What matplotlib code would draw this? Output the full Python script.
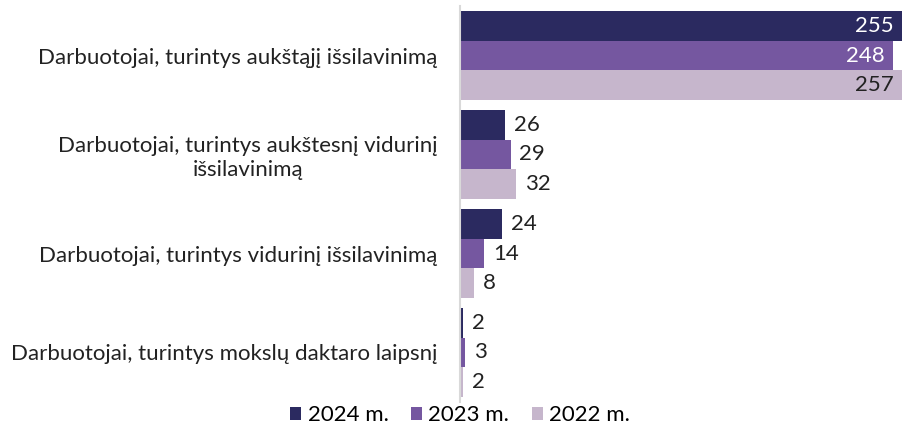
import numpy as np
import matplotlib.pyplot as plt

plt.rcParams['font.family'] = ['Lato', 'DejaVu Sans']

categories = ['Darbuotojai, turintys aukštąjį išsilavinimą',
              'Darbuotojai, turintys aukštesnį vidurinį\nišsilavinimą',
              'Darbuotojai, turintys vidurinį išsilavinimą',
              'Darbuotojai, turintys mokslų daktaro laipsnį']
series = ['2024 m.', '2023 m.', '2022 m.']
v2024 = [255, 26, 24, 2]
v2023 = [248, 29, 14, 3]
v2022 = [257, 32, 8, 2]
colors = ['#2b2a60', '#7557a0', '#c6b6cc']
xmax = 253

fig = plt.figure(figsize=(9.02, 4.26), dpi=100)
ax = fig.add_axes([460/902, 24/426, 442/902, 396/426])

y = np.arange(len(categories))
h = 0.3
fs = 16
for i, (vals, name, c) in enumerate(zip([v2024, v2023, v2022], series, colors)):
    pos = y + (i - 1) * h
    ax.barh(pos, vals, height=h, color=c, label=name)
    for p, v in zip(pos, vals):
        if v > xmax * 0.5:
            tc = 'white' if i < 2 else '#222222'
            ax.text(min(v, xmax) - 5, p, str(v), ha='right', va='center',
                    fontsize=fs, color=tc)
        else:
            ax.text(v + 5, p, str(v), ha='left', va='center',
                    fontsize=fs, color='#222222')

ax.set_xlim(0, xmax)
ax.set_ylim(3.5, -0.5)
ax.set_yticks(y)
ax.set_yticklabels(categories, fontsize=fs, color='#222222', linespacing=1.2)
for t in ax.get_yticklabels():
    t.set_multialignment('center')
ax.set_xticks([])
ax.tick_params(axis='y', length=0, pad=16)
for s in ['top', 'right', 'bottom']:
    ax.spines[s].set_visible(False)
ax.spines['left'].set_color('#d9d9d9')
ax.spines['left'].set_linewidth(1.5)

fig.legend(loc='lower center', bbox_to_anchor=(460/902, -0.045), ncol=3,
           frameon=False, fontsize=fs, handlelength=0.5, handleheight=0.5,
           handletextpad=0.3, columnspacing=1.0)

fig.savefig('out.png', dpi=100)
